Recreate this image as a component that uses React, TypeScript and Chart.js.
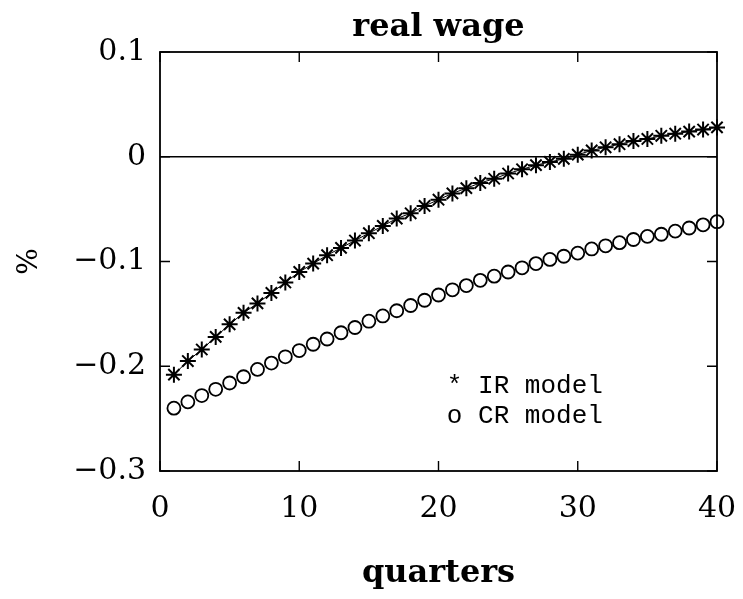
import React, { useEffect, useRef } from "react";
import { Chart, registerables } from "chart.js";

Chart.register(...registerables);

const quarters = [
  1, 2, 3, 4, 5, 6, 7, 8, 9, 10, 11, 12, 13, 14, 15, 16, 17, 18, 19, 20,
  21, 22, 23, 24, 25, 26, 27, 28, 29, 30, 31, 32, 33, 34, 35, 36, 37, 38, 39, 40,
];

const irModel = [
  -0.208, -0.195, -0.184, -0.172, -0.16, -0.149, -0.14, -0.13, -0.12, -0.11,
  -0.102, -0.094, -0.087, -0.08, -0.073, -0.066, -0.059, -0.054, -0.047, -0.041,
  -0.035, -0.03, -0.025, -0.021, -0.016, -0.012, -0.008, -0.005, -0.002, 0.002,
  0.006, 0.009, 0.012, 0.015, 0.017, 0.02, 0.022, 0.024, 0.026, 0.028,
];

const crModel = [
  -0.24, -0.234, -0.228, -0.222, -0.216, -0.21, -0.203, -0.197, -0.191, -0.185,
  -0.179, -0.174, -0.168, -0.163, -0.157, -0.152, -0.147, -0.142, -0.137, -0.132,
  -0.127, -0.123, -0.118, -0.114, -0.11, -0.106, -0.102, -0.098, -0.095, -0.092,
  -0.088, -0.085, -0.082, -0.079, -0.076, -0.074, -0.071, -0.068, -0.065, -0.062,
];

const xTickValues = [0, 10, 20, 30, 40];
const xTickLabels = ["0", "10", "20", "30", "40"];
const yTickValues = [-0.3, -0.2, -0.1, 0, 0.1];
const yTickLabels = ["\u22120.3", "\u22120.2", "\u22120.1", "0", "0.1"];

const seriesLabels = ["IR model", "CR model"];
const legendSymbols = ["*", "o"];
const titleText = "real wage";
const xTitle = "quarters";
const yTitle = "%";

const SERIF = "'DejaVu Serif', serif";

const framePlugin = {
  id: "framePlugin",
  beforeDatasetsDraw(chart: any) {
    const { ctx, chartArea } = chart;
    const { left, right, top, bottom } = chartArea;
    const xs = chart.scales.x;
    const ys = chart.scales.y;
    const tl = 10;
    ctx.save();
    ctx.strokeStyle = "#000";
    ctx.lineWidth = 1.8;
    ctx.strokeRect(left, top, right - left, bottom - top);
    ctx.lineWidth = 1.4;
    ctx.beginPath();
    xTickValues.forEach((v) => {
      const px = xs.getPixelForValue(v);
      ctx.moveTo(px, bottom);
      ctx.lineTo(px, bottom - tl);
      ctx.moveTo(px, top);
      ctx.lineTo(px, top + tl);
    });
    yTickValues.forEach((v) => {
      const py = ys.getPixelForValue(v);
      ctx.moveTo(left, py);
      ctx.lineTo(left + tl, py);
      ctx.moveTo(right, py);
      ctx.lineTo(right - tl, py);
    });
    ctx.stroke();
    ctx.restore();
  },
  afterDraw(chart: any) {
    const { ctx, chartArea } = chart;
    const w = chartArea.right - chartArea.left;
    const h = chartArea.bottom - chartArea.top;
    const x0 = chartArea.left + 0.515 * w;
    const y0 = chartArea.top + 0.814 * h;
    ctx.save();
    ctx.fillStyle = "#000";
    ctx.font = "26px 'Liberation Mono', monospace";
    ctx.textAlign = "left";
    ctx.textBaseline = "alphabetic";
    seriesLabels.forEach((lab, i) => {
      ctx.fillText(`${legendSymbols[i]} ${lab}`, x0, y0 + i * 30);
    });
    ctx.restore();
  },
};

export default function App() {
  const ref = useRef<HTMLCanvasElement | null>(null);

  useEffect(() => {
    if (!ref.current) return;
    const chart = new Chart(ref.current, {
      type: "line",
      data: {
        datasets: [
          {
            label: seriesLabels[0],
            data: quarters.map((q, i) => ({ x: q, y: irModel[i] })),
            borderColor: "#000",
            borderWidth: 1,
            pointStyle: "star",
            pointRadius: 8,
            pointBorderWidth: 2,
            pointBorderColor: "#000",
            pointBackgroundColor: "#000",
            showLine: true,
            tension: 0,
            clip: false,
          },
          {
            label: seriesLabels[1],
            data: quarters.map((q, i) => ({ x: q, y: crModel[i] })),
            borderColor: "#000",
            borderWidth: 1,
            pointStyle: "circle",
            pointRadius: 6.5,
            pointBorderWidth: 1.8,
            pointBorderColor: "#000",
            pointBackgroundColor: "rgba(0,0,0,0)",
            showLine: false,
            clip: false,
          },
        ],
      },
      options: {
        animation: false,
        responsive: false,
        devicePixelRatio: 1,
        layout: { padding: { left: 0, right: 26, top: 0, bottom: 0 } },
        plugins: {
          legend: { display: false },
          tooltip: { enabled: false },
          title: {
            display: true,
            text: titleText,
            fullSize: false,
            color: "#000",
            font: { family: SERIF, size: 32, weight: "bold", lineHeight: 1.2 },
            padding: { top: 8, bottom: 5.6 },
          },
        },
        scales: {
          x: {
            type: "linear",
            min: 0,
            max: 40,
            afterBuildTicks: (scale: any) => {
              scale.ticks = xTickValues.map((v) => ({ value: v }));
            },
            afterFit: (scale: any) => {
              scale.height = 128;
              scale.paddingLeft = 0;
              scale.paddingRight = 0;
            },
            grid: { display: false, drawTicks: false },
            border: { display: false },
            ticks: {
              autoSkip: false,
              maxRotation: 0,
              padding: 20,
              color: "#000",
              font: { family: SERIF, size: 30, lineHeight: 1.2 },
              callback: (_v: any, i: number) => xTickLabels[i],
            },
            title: {
              display: true,
              text: xTitle,
              color: "#000",
              font: { family: SERIF, size: 32, weight: "bold", lineHeight: 1.2 },
              padding: { top: 0, bottom: 6 },
            },
          },
          y: {
            type: "linear",
            min: -0.3,
            max: 0.1,
            afterBuildTicks: (scale: any) => {
              scale.ticks = yTickValues.map((v) => ({ value: v }));
            },
            afterFit: (scale: any) => {
              scale.width = 160;
              scale.paddingTop = 0;
              scale.paddingBottom = 0;
            },
            grid: {
              drawTicks: false,
              lineWidth: 1.4,
              color: (c: any) =>
                c.tick && Math.abs(c.tick.value) < 1e-9 ? "#000" : "rgba(0,0,0,0)",
            },
            border: { display: false },
            ticks: {
              autoSkip: false,
              padding: 14,
              color: "#000",
              font: { family: SERIF, size: 30, lineHeight: 1.2 },
              callback: (_v: any, i: number) => yTickLabels[i],
            },
            title: {
              display: true,
              text: yTitle,
              color: "#000",
              font: { family: SERIF, size: 28, lineHeight: 1.2 },
              padding: { top: 13, bottom: 0 },
            },
          },
        },
      },
      plugins: [framePlugin],
    } as any);
    return () => chart.destroy();
  }, []);

  return (
    <div
      style={{
        position: "fixed",
        left: 0,
        top: 0,
        width: 743,
        height: 599,
        background: "#fff",
      }}
    >
      <canvas ref={ref} width={743} height={599} style={{ width: 743, height: 599 }} />
    </div>
  );
}
